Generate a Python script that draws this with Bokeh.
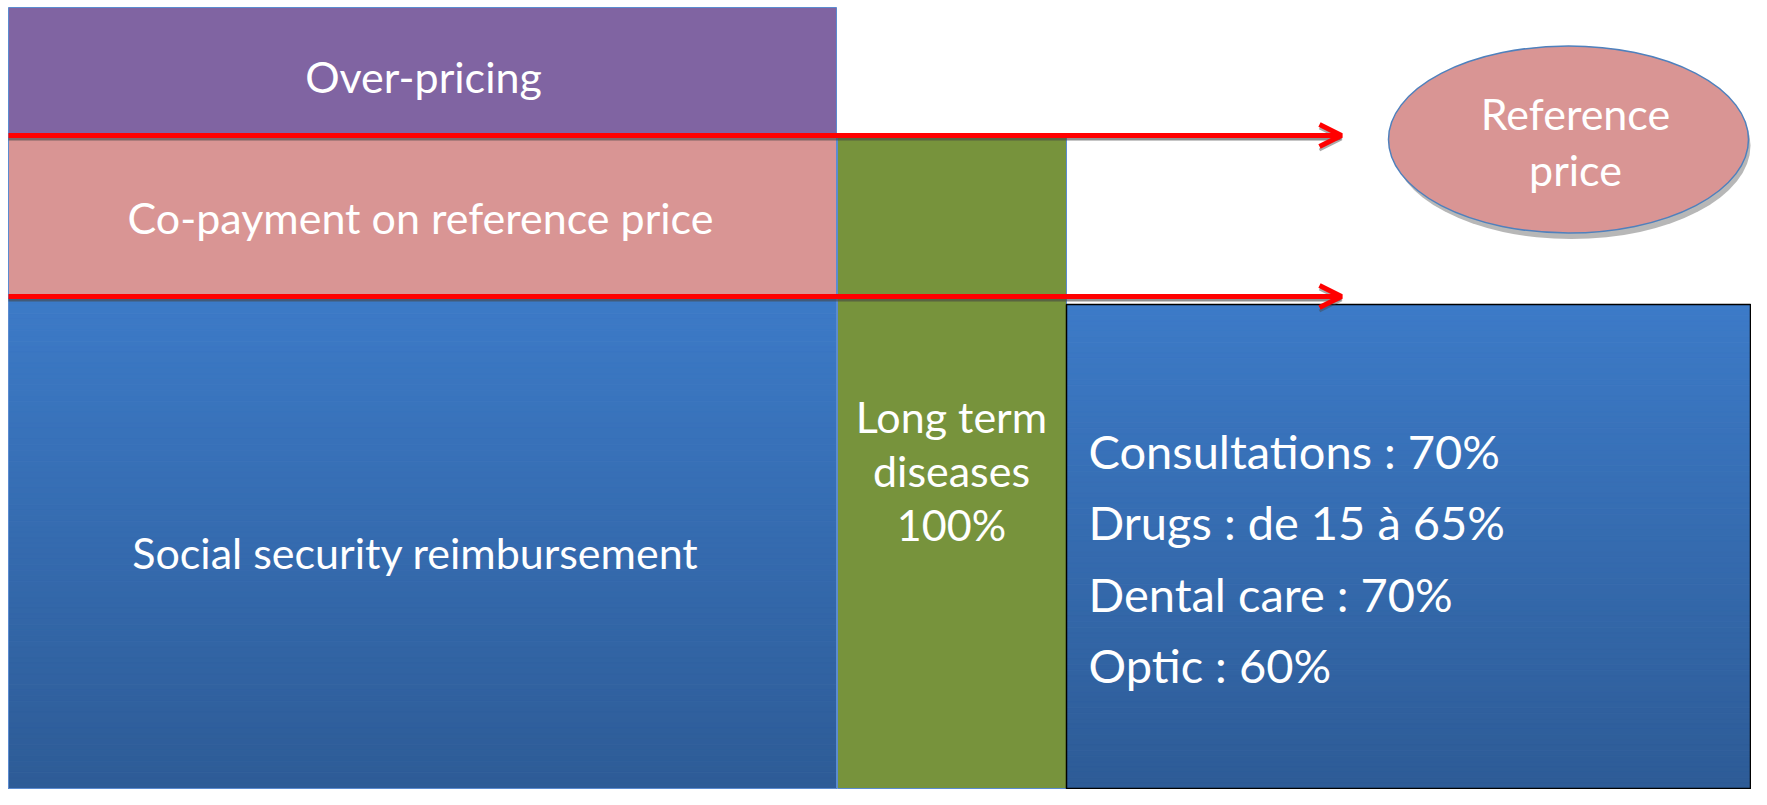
import numpy as np
from bokeh.plotting import figure
from bokeh.models import Range1d, Arrow, OpenHead
from bokeh.embed import file_html
from bokeh.resources import INLINE
from bokeh.core.properties import value

# ---- content (diagram labels) ----
layers = ["Over-pricing", "Co-payment on reference price", "Social security reimbursement"]
ald_lines = ["Long term", "diseases", "100%"]
care_items = ["Consultations", "Drugs", "Dental care", "Optic"]
care_rates = ["70%", "de 15 à 65%", "70%", "60%"]
ref_lines = ["Reference", "price"]

FONT = value("Lato")

W, H = 1751, 789
# data coordinates == picture pixel coordinates
p = figure(width=W, height=H, x_range=Range1d(0, W), y_range=Range1d(H, 0),
           output_backend="svg", toolbar_location=None, min_border=0)
p.axis.visible = False
p.grid.visible = False
p.outline_line_color = None
p.background_fill_color = "white"
p.border_fill_color = "white"


def gradient_box(left, right, top, bottom, c_top, c_bot, n=90):
    ys = np.linspace(top, bottom, n + 1)
    t = np.linspace(0, 1, n)
    a = np.array([int(c_top[i:i + 2], 16) for i in (1, 3, 5)])
    b = np.array([int(c_bot[i:i + 2], 16) for i in (1, 3, 5)])
    cols = ["#%02x%02x%02x" % tuple((a + (b - a) * tt).astype(int)) for tt in t]
    p.quad(left=left, right=right, top=ys[:-1], bottom=ys[1:],
           fill_color=cols, line_color=cols, line_width=1)


# layer geometry
L0, L1 = 8, 836
G1 = 1066
R1 = W - 1
BOT = H - 1
y_over = (7, 137)
y_co = (137, 297)
y_soc = (297, BOT)

# Over-pricing (purple)
p.quad(left=L0, right=L1, top=y_over[0], bottom=y_over[1],
       fill_color="#8064A2", line_color="#5B8BD0", line_width=1)
# Co-payment (pink)
p.quad(left=L0, right=L1, top=y_co[0], bottom=y_co[1],
       fill_color="#D99594", line_color="#5B8BD0", line_width=1)
# Social security (blue gradient)
gradient_box(L0, L1, y_soc[0], y_soc[1], "#3D7BC8", "#2E5C97")
p.quad(left=L0, right=L1, top=y_soc[0], bottom=y_soc[1],
       fill_color=None, line_color="#5B8BD0", line_width=1)
# Long term diseases (green)
p.quad(left=L1 + 1, right=G1, top=y_over[1], bottom=BOT,
       fill_color="#77933C", line_color="#5B8BD0", line_width=1)
# right blue box
gradient_box(G1, R1, 304, BOT, "#3D7BC8", "#2E5C97")
p.quad(left=G1, right=R1, top=304, bottom=BOT,
       fill_color=None, line_color="black", line_width=1.5)

# Reference price ellipse with shadow
p.ellipse(x=1571, y=145, width=358, height=187, fill_color="#6F6F6F",
          fill_alpha=0.5, line_color=None)
p.ellipse(x=1568, y=139, width=360, height=187, fill_color="#D99594",
          line_color="#4F81BD", line_width=1.5)

# red arrows with shadows
for yy in (135, 296):
    p.add_layout(Arrow(x_start=L0, y_start=yy + 3.5, x_end=1341, y_end=yy + 3.5,
                       line_color="#444444", line_alpha=0.6, line_width=3,
                       end=OpenHead(size=22, line_color="#444444", line_alpha=0.45, line_width=3)))
    p.add_layout(Arrow(x_start=L0, y_start=yy, x_end=1341, y_end=yy,
                       line_color="#FF0000", line_width=5,
                       end=OpenHead(size=22, line_color="#FF0000", line_width=5)))

# texts
p.text(x=[423, 420, 415], y=[76, 217, 552], text=layers, text_color="white",
       text_font=FONT, text_font_size="43px", text_align="center", text_baseline="middle")
p.text(x=[951] * 3, y=[416, 470, 524], text=ald_lines, text_color="white",
       text_font=FONT, text_font_size="43px", text_align="center", text_baseline="middle")
p.text(x=[1575] * 2, y=[113, 169], text=ref_lines, text_color="white",
       text_font=FONT, text_font_size="43px", text_align="center", text_baseline="middle")
care_text = [f"{c} : {r}" for c, r in zip(care_items, care_rates)]
p.text(x=[1088] * 4, y=[450, 521, 593, 664], text=care_text, text_color="white",
       text_font=FONT, text_font_size="47px", text_align="left", text_baseline="middle")

open("out.html", "w").write(file_html(p, INLINE))
